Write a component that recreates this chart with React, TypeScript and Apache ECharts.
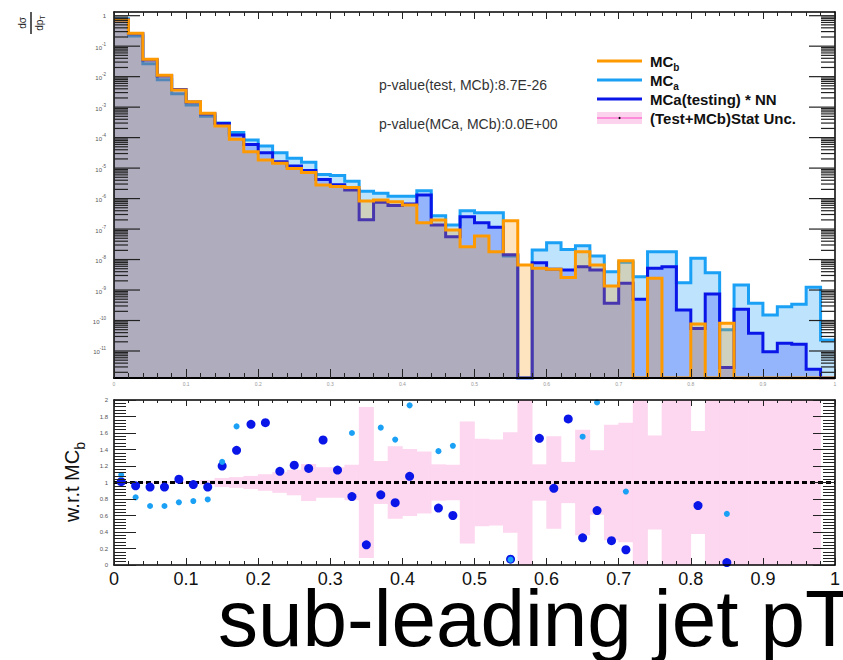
import React, { useEffect, useRef } from 'react';
import * as echarts from 'echarts';

// ---------- data ----------
const binEdges = [0, 0.02, 0.04, 0.06, 0.08, 0.1, 0.12, 0.14, 0.16, 0.18, 0.2, 0.22, 0.24, 0.26, 0.28, 0.3, 0.32, 0.34, 0.36, 0.38, 0.4, 0.42, 0.44, 0.46, 0.48, 0.5, 0.52, 0.54, 0.56, 0.58, 0.6, 0.62, 0.64, 0.66, 0.68, 0.7, 0.72, 0.74, 0.76, 0.78, 0.8, 0.82, 0.84, 0.86, 0.88, 0.9, 0.92, 0.94, 0.96, 0.98, 1.0];

const mcB = [0.72, 0.265, 0.0371, 0.0111, 0.00365, 0.00151, 6.3e-4, 2.4e-4, 8.8e-5, 3.45e-5,
  1.85e-5, 1.44e-5, 9.7e-6, 7.2e-6, 2.8e-6, 2.5e-6, 2.3e-6, 8.3e-7, 9.0e-7, 7.9e-7,
  6.2e-7, 1.62e-7, 1.98e-7, 9.3e-8, 2.64e-8, 5.9e-8, 1.81e-8, 1.88e-7, 6.6e-9, 5.2e-9,
  4.8e-9, 2.6e-9, 1.81e-8, 6.6e-9, 1.36e-9, 9.2e-9, 0, 2.42e-9, 0, 0,
  7.7e-11, 0, 8.1e-11, 0, 0, 0, 0, 0, 0, 0];

const mcA = [0.787, 0.217, 0.0265, 0.0079, 0.00277, 0.00117, 5.0e-4, 3.0e-4, 1.48e-4, 8.4e-5,
  5.3e-5, 3.2e-5, 2.1e-5, 1.55e-5, 6.2e-6, 5.7e-6, 3.7e-6, 1.75e-6, 1.5e-6, 1.2e-6,
  1.2e-6, 1.81e-6, 2.73e-7, 1.35e-7, 4.0e-7, 3.44e-7, 3.44e-7, 1.31e-8, 0, 2.06e-8,
  3.57e-8, 2.13e-8, 2.81e-8, 1.3e-8, 4.0e-9, 8.2e-9, 2.73e-9, 1.81e-8, 1.81e-8, 1.74e-9,
  1.1e-8, 3.7e-9, 5.0e-11, 1.46e-9, 3.7e-10, 1.51e-10, 2.84e-10, 3.4e-10, 1.23e-9, 2.29e-11];

const mcaNN = [0.73, 0.254, 0.0351, 0.0105, 0.00379, 0.00147, 5.93e-4, 2.88e-4, 1.22e-4, 5.9e-5,
  3.18e-5, 1.63e-5, 1.17e-5, 8.4e-6, 4.2e-6, 2.86e-6, 1.92e-6, 2.04e-7, 7.6e-7, 5.97e-7,
  6.6e-7, 1.31e-6, 1.37e-7, 5.6e-8, 2.55e-7, 1.62e-7, 1.14e-7, 1.45e-8, 0, 7.9e-9,
  4.8e-9, 4.5e-9, 5.8e-9, 4.5e-9, 3.7e-10, 1.66e-9, 4.95e-10, 5.2e-9, 5.8e-9, 2.2e-10,
  5.5e-11, 7.4e-10, 2.9e-12, 2.33e-10, 3.8e-11, 9.5e-12, 1.79e-11, 1.66e-11, 2.5e-12, 0];

// half width of the (Test+MCb) statistical band around 1, per bin
const statUnc = [0.008, 0.008, 0.008, 0.008, 0.01, 0.015, 0.03, 0.055, 0.065, 0.08,
  0.1, 0.125, 0.155, 0.225, 0.185, 0.185, 0.215, 0.915, 0.26, 0.44,
  0.405, 0.375, 0.22, 0.215, 0.74, 0.53, 0.52, 0.61, 1.5, 0.22,
  0.56, 0.25, 0.64, 0.39, 0.7, 0.725, 1.5, 0.57, 1.5, 1.5,
  0.625, 1.5, 1.5, 1.5, 1.5, 1.5, 1.5, 1.5, 1.5, 0];

const ratioNNx = [0.01, 0.03, 0.05, 0.07, 0.09, 0.11, 0.13, 0.15, 0.17, 0.19, 0.21, 0.23, 0.25, 0.27, 0.29, 0.31, 0.33, 0.35, 0.37, 0.39, 0.41, 0.45, 0.47, 0.55, 0.59, 0.61, 0.63, 0.65, 0.67, 0.69, 0.71, 0.81, 0.85];
const ratioNN = [1.01, 0.96, 0.945, 0.945, 1.04, 0.975, 0.945, 1.2, 1.39, 1.705, 1.725, 1.135, 1.21, 1.17, 1.515, 1.15, 0.83, 0.245, 0.85, 0.755, 1.075, 0.69, 0.6, 0.07, 1.535, 0.93, 1.77, 0.33, 0.66, 0.295, 0.185, 0.72, 0.03];

const ratioAx = [0.01, 0.03, 0.05, 0.07, 0.09, 0.11, 0.13, 0.15, 0.17, 0.33, 0.37, 0.39, 0.41, 0.45, 0.47, 0.55, 0.65, 0.67, 0.71, 0.85];
const ratioA = [1.09, 0.82, 0.715, 0.715, 0.76, 0.775, 0.795, 1.25, 1.68, 1.6, 1.665, 1.52, 1.935, 1.38, 1.445, 0.065, 1.555, 1.97, 0.89, 0.62];

const decadeTicks = [-11, -10, -9, -8, -7, -6, -5, -4, -3, -2, -1, 0];

// ---------- style ----------
const FONT = '"Liberation Sans", Arial, Helvetica, sans-serif';
const ORANGE = '#ff9900';
const AZURE = '#1aa0f5';
const BLUE = '#0a16e8';
const Y_MIN = -11.886;
const Y_MAX = 0.121;

const lg = (v: number) => (v > 0 ? Math.log10(v) : Y_MIN);
const stepData = (vals: number[]) => {
  const pts = vals.map((v, i) => [binEdges[i], lg(v)]);
  pts.push([binEdges[vals.length], lg(vals[vals.length - 1])]);
  return pts;
};

// log-axis tick marks: [position in log10 space, tick length in px]
const logTicks: number[][] = [];
for (let n = -12; n <= 0; n++) {
  for (let k = 1; k <= 9; k++) {
    const v = n + Math.log10(k);
    if (v > Y_MIN && v < Y_MAX) logTicks.push([v, k === 1 ? 26 : 14]);
  }
}

export default function App() {
  const ref = useRef<HTMLDivElement>(null);
  useEffect(() => {
    document.body.style.margin = '0';
    const chart = echarts.init(ref.current!, null, { renderer: 'svg' });

    const histSeries = (name: string, vals: number[], line: string, fill: string, z: number) => ({
      name,
      type: 'line',
      xAxisIndex: 0,
      yAxisIndex: 0,
      step: 'end',
      symbol: 'none',
      z,
      silent: true,
      clip: true,
      data: stepData(vals),
      lineStyle: { color: line, width: 3, join: 'miter' },
      areaStyle: { color: fill, origin: 'start', opacity: 1 },
    });

    const tickSeries = (side: number) => ({
      type: 'custom', xAxisIndex: 0, yAxisIndex: 0, clip: false, silent: true, z: 20,
      data: logTicks,
      encode: { y: 0 },
      renderItem: (params: any, api: any) => {
        const p = api.coord([side, api.value(0)]);
        const len = api.value(1) * (side === 0 ? 1 : -1);
        return {
          type: 'line',
          shape: { x1: p[0], y1: p[1], x2: p[0] + len, y2: p[1] },
          style: { stroke: '#222', lineWidth: 1.2 },
        };
      },
    });

    const baseX = (grid: number, pos: string, tickLen: number, minorLen: number, lbl: any) => ({
      type: 'value', gridIndex: grid, position: pos, min: 0, max: 1, interval: 0.1, z: 10,
      axisLine: { show: true, onZero: false, lineStyle: { color: '#000', width: pos === 'bottom' && grid === 0 ? 2 : 1.5 } },
      axisTick: { show: true, inside: true, length: tickLen, lineStyle: { color: '#222', width: 1 } },
      minorTick: { show: true, splitNumber: 5, length: minorLen, lineStyle: { color: '#222', width: 1 } },
      splitLine: { show: false },
      axisLabel: lbl,
    });

    const option: any = {
      animation: false,
      backgroundColor: '#fff',
      grid: [
        { left: 114, top: 12, width: 721, height: 366 },
        { left: 114, top: 400, width: 721, height: 165 },
      ],
      xAxis: [
        baseX(0, 'bottom', 9, 5, { show: true, fontSize: 5, color: '#999', margin: 3, fontFamily: FONT }),
        baseX(0, 'top', 7, 4, { show: false }),
        baseX(1, 'bottom', 7, 4, { show: true, fontSize: 18, color: '#111', margin: 5, fontFamily: FONT }),
        baseX(1, 'top', 6, 3, { show: false }),
      ],
      yAxis: [
        {
          type: 'value', gridIndex: 0, position: 'left', min: Y_MIN, max: Y_MAX, z: 10,
          axisLine: { show: true, onZero: false, lineStyle: { color: '#000', width: 1.5 } },
          axisTick: { show: false },
          splitLine: { show: false },
          axisLabel: {
            show: true, customValues: decadeTicks, margin: 8, color: '#555', fontSize: 6, fontFamily: FONT,
            formatter: (v: number) => {
              const n = Math.round(v);
              return n === 0 ? '1' : `{b|10}{e|${n}}`;
            },
            rich: {
              b: { fontSize: 6, color: '#555', fontFamily: FONT, verticalAlign: 'bottom', lineHeight: 9 },
              e: { fontSize: 4.5, color: '#555', fontFamily: FONT, verticalAlign: 'top', lineHeight: 9 },
            },
          },
        },
        {
          type: 'value', gridIndex: 0, position: 'right', min: Y_MIN, max: Y_MAX, z: 10,
          axisLine: { show: true, onZero: false, lineStyle: { color: '#000', width: 1.5 } },
          axisTick: { show: false },
          splitLine: { show: false }, axisLabel: { show: false },
        },
        {
          type: 'value', gridIndex: 1, position: 'left', min: 0, max: 2, interval: 0.2, z: 10,
          axisLine: { show: true, onZero: false, lineStyle: { color: '#000', width: 1.5 } },
          axisTick: { show: true, inside: true, length: 22, lineStyle: { color: '#222', width: 1 } },
          minorTick: { show: true, splitNumber: 5, length: 12, lineStyle: { color: '#222', width: 1 } },
          splitLine: { show: false },
          axisLabel: { show: true, fontSize: 6, color: '#555', margin: 6, fontFamily: FONT },
        },
        {
          type: 'value', gridIndex: 1, position: 'right', min: 0, max: 2, interval: 0.2, z: 10,
          axisLine: { show: true, onZero: false, lineStyle: { color: '#000', width: 1.5 } },
          axisTick: { show: true, inside: true, length: 22, lineStyle: { color: '#222', width: 1 } },
          minorTick: { show: true, splitNumber: 5, length: 12, lineStyle: { color: '#222', width: 1 } },
          splitLine: { show: false }, axisLabel: { show: false },
        },
      ],
      series: [
        histSeries('MC_a', mcA, AZURE, 'rgba(0,150,245,0.26)', 2),
        histSeries('MCa(testing) * NN', mcaNN, BLUE, 'rgba(20,30,255,0.24)', 3),
        histSeries('MC_b', mcB, ORANGE, 'rgba(255,153,0,0.25)', 4),
        tickSeries(0),
        tickSeries(1),
        {
          name: '(Test+MCb)Stat Unc.',
          type: 'custom', xAxisIndex: 2, yAxisIndex: 2, clip: true, silent: true, z: 2,
          data: statUnc.map((h, i) => [binEdges[i], binEdges[i + 1], 1 - h, 1 + h]),
          encode: { x: [0, 1], y: [2, 3] },
          renderItem: (params: any, api: any) => {
            const lo = api.value(2), hi = api.value(3);
            if (hi - lo <= 0) return { type: 'group', children: [] };
            const a = api.coord([api.value(0), hi]);
            const b = api.coord([api.value(1), lo]);
            return {
              type: 'rect',
              shape: { x: a[0] - 0.3, y: a[1], width: b[0] - a[0] + 0.6, height: b[1] - a[1] },
              style: { fill: '#fdd6ef' },
            };
          },
        },
        {
          type: 'line', xAxisIndex: 2, yAxisIndex: 2, symbol: 'none', silent: true, z: 3,
          data: [[0, 1], [1, 1]],
          lineStyle: { color: '#000', width: 3, type: [5, 3] },
        },
        {
          name: 'MCa(testing) * NN / MCb',
          type: 'scatter', xAxisIndex: 2, yAxisIndex: 2, symbol: 'circle', symbolSize: 9, z: 4, silent: true,
          itemStyle: { color: BLUE, opacity: 1 },
          data: ratioNNx.map((x, i) => [x, ratioNN[i]]),
        },
        {
          name: 'MCa / MCb',
          type: 'scatter', xAxisIndex: 2, yAxisIndex: 2, symbol: 'circle', symbolSize: 6, z: 5, silent: true,
          itemStyle: { color: AZURE, opacity: 1 },
          data: ratioAx.map((x, i) => [x, ratioA[i]]),
        },
      ],
      graphic: [
        // y title of the top panel: dσ / dpT
        { type: 'text', z: 100, x: 22, y: 23, rotation: Math.PI / 2, style: { text: 'dσ', font: `10px ${FONT}`, fill: '#222', align: 'center', verticalAlign: 'middle' } },
        { type: 'line', z: 100, shape: { x1: 31, y1: 12, x2: 31, y2: 34 }, style: { stroke: '#222', lineWidth: 1.5 } },
        {
          type: 'text', z: 100, x: 39, y: 23, rotation: Math.PI / 2,
          style: {
            text: '{a|dp}{s|T}', align: 'center', verticalAlign: 'middle',
            rich: { a: { fontSize: 10, fontFamily: FONT, fill: '#222' }, s: { fontSize: 7, fontFamily: FONT, fill: '#222', verticalAlign: 'bottom', lineHeight: 14 } },
          },
        },
        // y title of the ratio panel
        {
          type: 'text', z: 100, x: 72, y: 482, rotation: Math.PI / 2,
          style: {
            text: '{m|w.r.t MC}{s|b}', align: 'center', verticalAlign: 'middle',
            rich: {
              m: { fontSize: 20, fontFamily: FONT, fill: '#111', lineHeight: 24 },
              s: { fontSize: 14, fontFamily: FONT, fill: '#111', verticalAlign: 'bottom', lineHeight: 30 },
            },
          },
        },
        // p-values
        { type: 'text', z: 100, x: 379, y: 85, style: { text: 'p-value(test, MCb):8.7E-26', font: `14px ${FONT}`, fill: '#333', verticalAlign: 'middle' } },
        { type: 'text', z: 100, x: 379, y: 124, style: { text: 'p-value(MCa, MCb):0.0E+00', font: `14px ${FONT}`, fill: '#333', verticalAlign: 'middle' } },
        // legend
        { type: 'line', z: 100, shape: { x1: 597, y1: 61, x2: 642, y2: 61 }, style: { stroke: ORANGE, lineWidth: 3 } },
        {
          type: 'text', z: 100, x: 650, y: 61,
          style: {
            text: '{m|MC}{s|b}', verticalAlign: 'middle',
            rich: {
              m: { fontSize: 15, fontWeight: 'bold', fontFamily: FONT, fill: '#111', lineHeight: 18 },
              s: { fontSize: 10, fontWeight: 'bold', fontFamily: FONT, fill: '#111', verticalAlign: 'bottom', lineHeight: 22 },
            },
          },
        },
        { type: 'line', z: 100, shape: { x1: 597, y1: 80, x2: 642, y2: 80 }, style: { stroke: AZURE, lineWidth: 3 } },
        {
          type: 'text', z: 100, x: 650, y: 80,
          style: {
            text: '{m|MC}{s|a}', verticalAlign: 'middle',
            rich: {
              m: { fontSize: 15, fontWeight: 'bold', fontFamily: FONT, fill: '#111', lineHeight: 18 },
              s: { fontSize: 10, fontWeight: 'bold', fontFamily: FONT, fill: '#111', verticalAlign: 'bottom', lineHeight: 22 },
            },
          },
        },
        { type: 'line', z: 100, shape: { x1: 597, y1: 99, x2: 642, y2: 99 }, style: { stroke: BLUE, lineWidth: 3 } },
        { type: 'text', z: 100, x: 650, y: 99, style: { text: 'MCa(testing) * NN', font: `bold 15px ${FONT}`, fill: '#111', verticalAlign: 'middle' } },
        { type: 'rect', z: 100, shape: { x: 597, y: 112, width: 45, height: 12 }, style: { fill: '#fcd3ec' } },
        { type: 'line', z: 101, shape: { x1: 597, y1: 118, x2: 642, y2: 118 }, style: { stroke: '#ff44c8', lineWidth: 1 } },
        { type: 'circle', z: 102, shape: { cx: 619.5, cy: 118, r: 1 }, style: { fill: '#000' } },
        { type: 'text', z: 100, x: 650, y: 118, style: { text: '(Test+MCb)Stat Unc.', font: `bold 15px ${FONT}`, fill: '#111', verticalAlign: 'middle' } },
        // x title (overflows the right edge, as in the reference)
        { type: 'text', z: 100, x: 218, y: 618, style: { text: 'sub-leading jet pT', font: `80px ${FONT}`, fill: '#000', verticalAlign: 'middle' } },
      ],
    };

    chart.setOption(option);
    return () => chart.dispose();
  }, []);
  return <div ref={ref} style={{ width: 843, height: 660 }} />;
}
